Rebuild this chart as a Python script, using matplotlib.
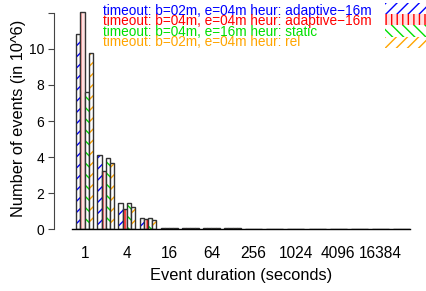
import matplotlib
matplotlib.use("Agg")
import matplotlib.pyplot as plt
from matplotlib.patches import Rectangle

plt.rcParams['font.family'] = ['Liberation Sans', 'DejaVu Sans']
plt.rcParams['hatch.linewidth'] = 1.0

# duration bins: 2^0 .. 2^15 seconds, values in 10^6 events
bins = [2 ** i for i in range(16)]
adaptive_b02 = [10.8, 4.12, 1.44, 0.61, 0.09, 0.07, 0.09, 0.07, 0.02, 0, 0, 0, 0, 0, 0, 0]
adaptive_b04 = [12.05, 3.21, 1.14, 0.55, 0.09, 0.07, 0.09, 0.07, 0.02, 0, 0, 0, 0, 0, 0, 0]
static_b04 = [7.62, 3.97, 1.44, 0.64, 0.09, 0.07, 0.09, 0.07, 0.02, 0, 0, 0, 0, 0, 0, 0]
rel_b02 = [9.75, 3.66, 1.25, 0.53, 0.09, 0.07, 0.09, 0.07, 0.02, 0, 0, 0, 0, 0, 0, 0]

series = [adaptive_b02, adaptive_b04, static_b04, rel_b02]
labels = ['timeout: b=02m, e=04m heur: adaptive\u221216m',
          'timeout: b=04m, e=04m heur: adaptive\u221216m',
          'timeout: b=04m, e=16m heur: static',
          'timeout: b=02m, e=04m heur: rel']
colors = ['#0000ff', '#ff0000', '#00e000', '#ffa500']
fills = ['white', '#ffe0e0', 'white', 'white']
hatches = ['///', '|||', '\\\\\\', '///']
tick_bins = [1, 4, 16, 64, 256, 1024, 4096, 16384]

fig = plt.figure(figsize=(4.27, 2.91), dpi=100)
ax = fig.add_axes([72 / 427, 61.7 / 291, 338 / 427, 222 / 291])

for j, vals in enumerate(series):
    xs = [i * 5 + 1.5 + j for i in range(len(bins))]
    ax.bar(xs, vals, width=1, facecolor=fills[j], edgecolor=colors[j],
           hatch=hatches[j], linewidth=0)
    ax.bar(xs, vals, width=1, facecolor='none', edgecolor='#333333',
           linewidth=1.0)

ax.set_xlim(0, 5 * len(bins))
ax.set_ylim(0, 12.3)

tick_pos = [bins.index(b) * 5 + 3 for b in tick_bins]
ax.set_xticks(tick_pos)
ax.set_xticklabels([str(b) for b in tick_bins], fontsize=11.2)
ax.tick_params(axis='x', length=0, pad=12)
ax.set_yticks(range(0, 13, 2))
ax.set_yticklabels(['0', '2', '4', '6', '8', '10', ''], rotation=90,
                   va='center', fontsize=11.2)
ax.tick_params(axis='y', length=4, pad=3, color='#444444')

ax.spines['top'].set_visible(False)
ax.spines['right'].set_visible(False)
ax.spines['left'].set_position(('outward', 13))
ax.spines['left'].set_bounds(0, 12)
ax.spines['left'].set_color('#444444')
ax.spines['bottom'].set_linewidth(1.0)

ax.set_xlabel('Event duration (seconds)', fontsize=11.8, labelpad=5)
ax.set_ylabel('Number of events (in 10^6)', fontsize=11.8, labelpad=2)

# legend drawn as plain text lines with pattern swatches on the right
for k, (lab, col, h) in enumerate(zip(labels, colors, hatches)):
    y = 1 - (10.7 + k * 10.5) / 291
    fig.text(103 / 427, y, lab, color=col, fontsize=9.8, va='center', ha='left')
    fig.add_artist(Rectangle((385 / 427, 1 - (14 + k * 11.3) / 291), 42 / 427,
                             11.3 / 291, transform=fig.transFigure,
                             facecolor=fills[k], edgecolor=col, hatch=h,
                             linewidth=0))

fig.savefig('out.png', dpi=100)
